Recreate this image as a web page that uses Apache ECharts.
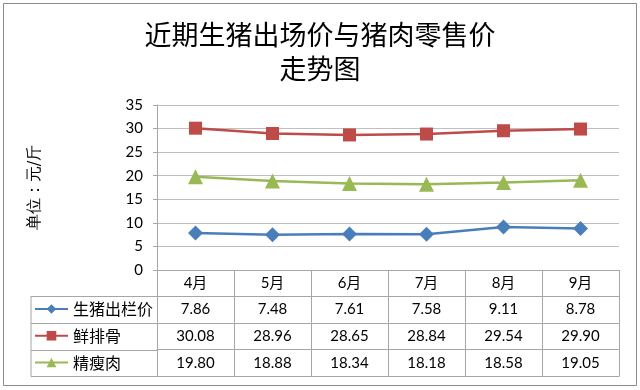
<!DOCTYPE html>
<html><head><meta charset="utf-8">
<script src="https://cdn.jsdelivr.net/npm/echarts@6/dist/echarts.min.js"></script>
<style>html,body{margin:0;padding:0;background:#fff}#c{width:640px;height:390px}</style>
</head><body><div id="c"></div>
<script>
const titleText = '近期生猪出场价与猪肉零售价\n走势图';
const yName = '单位：元/斤';
const categories = ['4月','5月','6月','7月','8月','9月'];
const seriesNames = ['生猪出栏价','鲜排骨','精瘦肉'];
const hogPrice = [7.86, 7.48, 7.61, 7.58, 9.11, 8.78];
const ribPrice = [30.08, 28.96, 28.65, 28.84, 29.54, 29.90];
const leanPrice = [19.80, 18.88, 18.34, 18.18, 18.58, 19.05];
const yTicks = [0, 5, 10, 15, 20, 25, 30, 35];

const colors = ['#4a7ebb', '#be4b48', '#98b954'];
const symbols = ['diamond', 'rect', 'triangle'];
const symbolSizes = [15, 13, 15];
const allValues = [hogPrice, ribPrice, leanPrice];

const numFont = "Lato, 'Noto Sans CJK SC', sans-serif";
const cjkFont = "'Noto Sans CJK SC', sans-serif";
const lineCol = '#a6a6a6';
const GRID_L = 157, GRID_R = 21, GRID_T = 105, GRID_B = 120;
const ROW_H = 26.75;
const HEAD_H = 26;

const xAxes = [{
  type: 'category', data: categories, gridIndex: 0, position: 'bottom',
  boundaryGap: true,
  axisLine: { show: true, lineStyle: { color: lineCol, width: 1 } },
  axisTick: { show: true, length: HEAD_H, interval: 0, lineStyle: { color: lineCol } },
  axisLabel: { fontSize: 15, color: '#000', fontFamily: numFont, margin: 6, interval: 0 }
}];
allValues.forEach((vals, i) => {
  xAxes.push({
    type: 'category', gridIndex: 0, position: 'bottom',
    data: vals.map(v => v.toFixed(2)),
    offset: HEAD_H + i * ROW_H,
    boundaryGap: true,
    axisLine: { show: true, lineStyle: { color: lineCol, width: 1 } },
    axisTick: { show: true, length: ROW_H, interval: 0, lineStyle: { color: lineCol } },
    axisLabel: { fontSize: 15, color: '#000', fontFamily: numFont, margin: 6, interval: 0 }
  });
});
xAxes.push({
  type: 'category', gridIndex: 0, position: 'bottom', data: categories,
  offset: HEAD_H + 3 * ROW_H,
  axisLine: { show: true, lineStyle: { color: lineCol, width: 1 } },
  axisTick: { show: false }, axisLabel: { show: false }
});

const series = seriesNames.map((n, i) => ({
  name: n, type: 'line', xAxisIndex: 0, yAxisIndex: 0,
  data: allValues[i],
  symbol: symbols[i], symbolSize: symbolSizes[i],
  lineStyle: { color: colors[i], width: 2.5 },
  itemStyle: { color: colors[i] },
  animation: false
}));

const chart = echarts.init(document.getElementById('c'), null, { renderer: 'canvas' });
const tableTop = 390 - GRID_B + HEAD_H;
const tableBottom = 390 - GRID_B + HEAD_H + 3 * ROW_H;
const graphics = [
  { type: 'rect', shape: { x: 3.5, y: 3.5, width: 633, height: 382 }, style: { fill: 'none', stroke: '#8c8c8c', lineWidth: 1 }, z: 0 },
  { type: 'line', shape: { x1: 31, y1: tableTop, x2: 31, y2: tableBottom }, style: { stroke: lineCol, lineWidth: 1 } }
];
for (let r = 0; r <= 3; r++) {
  const y = Math.round(tableTop + r * ROW_H) + 0.5;
  graphics.push({ type: 'line', shape: { x1: 31, y1: y, x2: GRID_L, y2: y }, style: { stroke: lineCol, lineWidth: 1 } });
}

chart.setOption({
  animation: false,
  backgroundColor: '#fff',
  title: {
    text: titleText, left: 'center', top: 13,
    textStyle: { fontSize: 27, fontWeight: 'normal', color: '#000', fontFamily: cjkFont, lineHeight: 34 }
  },
  grid: { left: GRID_L, right: GRID_R, top: GRID_T, bottom: GRID_B, containLabel: false },
  legend: {
    data: seriesNames, orient: 'vertical', left: 34, top: 300, padding: 0,
    itemWidth: 33, itemHeight: 12, itemGap: ROW_H - 18,
    textStyle: { fontSize: 16, lineHeight: 18, color: '#000', fontFamily: cjkFont },
    selectedMode: false
  },
  xAxis: xAxes,
  yAxis: {
    type: 'value', min: yTicks[0], max: yTicks[yTicks.length - 1], interval: 5,
    name: yName, nameLocation: 'middle', nameRotate: 90, nameGap: 114,
    nameTextStyle: { fontSize: 16, color: '#000', fontFamily: "'DejaVu Serif', serif" },
    axisLine: { show: true, lineStyle: { color: lineCol } },
    axisTick: { show: true, length: 4, lineStyle: { color: lineCol } },
    axisLabel: { fontSize: 15, color: '#000', fontFamily: numFont, margin: 14 },
    splitLine: { show: true, lineStyle: { color: '#bfbfbf', width: 1 } }
  },
  graphic: graphics,
  series: series
});
</script></body></html>
